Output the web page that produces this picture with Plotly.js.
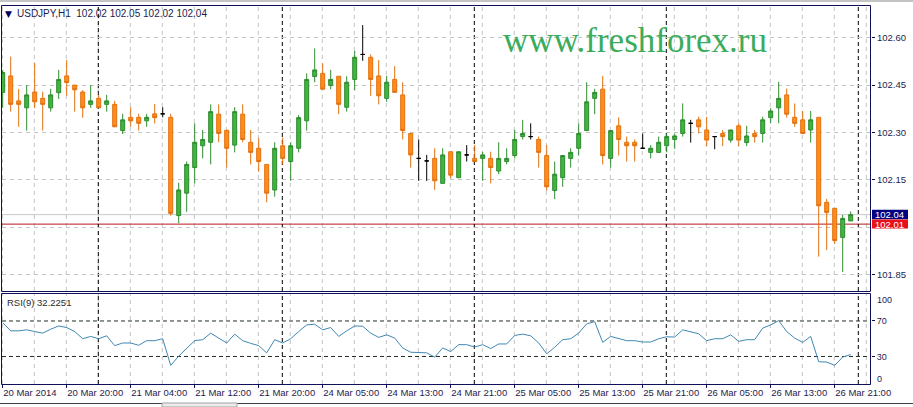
<!DOCTYPE html>
<html><head><meta charset="utf-8">
<script src="https://cdn.plot.ly/plotly-3.0.1.min.js"></script>
<style>html,body{margin:0;padding:0;background:#fff;overflow:hidden}#chart{width:913px;height:407px}</style>
</head><body><div id="chart"></div>
<script>
// ---- data (USDJPY H1, bar index 0 = 20 Mar 2014 12:00) ----
const opens = [102.427,102.479,102.400,102.378,102.428,102.408,102.378,102.426,102.479,102.450,
102.428,102.389,102.408,102.389,102.389,102.306,102.348,102.348,102.337,102.359,
102.359,102.348,102.037,102.108,102.189,102.258,102.269,102.358,102.307,102.260,
102.358,102.269,102.250,102.199,102.118,102.258,102.208,102.250,102.337,102.477,
102.487,102.449,102.478,102.380,102.468,102.547,102.538,102.479,102.408,102.468,
102.419,102.297,102.218,102.210,102.218,102.139,102.239,102.157,102.229,102.218,
102.218,102.218,102.178,102.208,102.227,102.287,102.287,102.278,102.227,102.116,
102.157,102.218,102.250,102.306,102.408,102.437,102.218,102.321,102.269,102.269,
102.250,102.237,102.237,102.258,102.278,102.297,102.329,102.340,102.308,102.287,
102.297,102.276,102.321,102.268,102.297,102.297,102.347,102.378,102.419,102.348,
102.340,102.308,102.348,102.079,102.060,101.968,102.020];
const highs = [102.498,102.540,102.438,102.450,102.521,102.429,102.438,102.498,102.529,102.450,
102.434,102.450,102.419,102.419,102.400,102.359,102.380,102.359,102.359,102.390,
102.380,102.359,102.141,102.208,102.329,102.308,102.389,102.389,102.307,102.380,
102.389,102.308,102.282,102.199,102.269,102.284,102.269,102.355,102.487,102.566,
102.519,102.498,102.478,102.478,102.558,102.640,102.547,102.529,102.479,102.510,
102.459,102.297,102.278,102.229,102.250,102.250,102.239,102.239,102.260,102.260,
102.239,102.239,102.269,102.250,102.308,102.340,102.329,102.287,102.260,102.208,
102.227,102.250,102.329,102.459,102.438,102.479,102.306,102.348,102.287,102.278,
102.297,102.260,102.287,102.297,102.297,102.392,102.340,102.350,102.350,102.287,
102.308,102.308,102.329,102.321,102.308,102.350,102.377,102.460,102.439,102.392,
102.368,102.368,102.348,102.090,102.060,102.039,102.050];
const lows = [102.378,102.366,102.318,102.306,102.377,102.306,102.366,102.406,102.416,102.366,
102.347,102.378,102.378,102.366,102.318,102.295,102.318,102.306,102.318,102.329,
102.348,102.037,102.013,102.049,102.139,102.218,102.199,102.269,102.189,102.237,
102.269,102.199,102.176,102.079,102.097,102.199,102.147,102.237,102.306,102.459,
102.437,102.437,102.358,102.366,102.434,102.527,102.416,102.389,102.397,102.427,
102.278,102.189,102.147,102.147,102.118,102.139,102.155,102.157,102.208,102.208,
102.147,102.139,102.168,102.199,102.218,102.278,102.278,102.189,102.116,102.089,
102.128,102.189,102.227,102.306,102.358,102.199,102.189,102.227,102.208,102.208,
102.250,102.218,102.237,102.237,102.248,102.287,102.268,102.297,102.257,102.247,
102.257,102.268,102.257,102.257,102.268,102.268,102.329,102.329,102.347,102.318,
102.297,102.268,101.907,101.928,101.947,101.858,102.020];
const closes = [102.490,102.389,102.389,102.419,102.397,102.389,102.419,102.468,102.458,102.435,
102.378,102.400,102.378,102.400,102.318,102.340,102.337,102.329,102.348,102.347,
102.359,102.044,102.118,102.199,102.269,102.278,102.366,102.297,102.250,102.366,
102.278,102.237,102.208,102.108,102.250,102.218,102.258,102.347,102.468,102.498,
102.437,102.468,102.389,102.459,102.538,102.547,102.468,102.416,102.459,102.427,
102.306,102.229,102.218,102.210,102.147,102.229,102.165,102.239,102.229,102.208,
102.229,102.189,102.218,102.218,102.278,102.297,102.287,102.237,102.128,102.168,
102.227,102.237,102.297,102.397,102.427,102.227,102.306,102.278,102.258,102.258,
102.250,102.250,102.269,102.287,102.289,102.340,102.329,102.318,102.276,102.287,
102.287,102.308,102.276,102.289,102.287,102.340,102.368,102.408,102.358,102.329,
102.297,102.340,102.068,102.047,101.958,102.028,102.040];
const rsiValues = [68.1,58.9,58.9,60.0,58.1,56.3,60.7,64.4,62.6,58.1,
50.0,52.6,50.0,53.3,42.2,45.2,45.2,42.6,47.8,47.8,
50.0,20.0,30.4,39.6,47.8,48.9,56.3,50.7,45.2,55.2,
47.8,44.8,42.2,34.1,48.9,45.2,50.0,58.1,65.6,66.3,
60.0,62.6,52.6,58.9,64.4,64.1,56.3,51.5,54.4,50.7,
39.6,34.8,34.1,34.1,29.3,39.6,35.5,43.3,43.3,40.7,
43.3,38.9,44.1,44.1,53.7,55.2,53.3,45.2,33.0,40.4,
48.9,50.0,56.3,66.7,69.3,45.9,52.6,50.0,47.8,47.8,
46.3,46.3,50.0,52.2,51.9,60.0,58.1,55.6,47.8,50.0,
50.0,54.4,47.0,48.9,48.9,61.9,65.6,70.4,58.1,50.7,
45.9,52.6,24.1,23.7,20.0,29.3,32.2];
const xTickIdx = [0,8,16,24,32,40,48,56,64,72,80,88,96,104];
const xTickLabels = ['20 Mar 2014','20 Mar 20:00','21 Mar 04:00','21 Mar 12:00','21 Mar 20:00',
  '24 Mar 05:00','24 Mar 13:00','24 Mar 21:00','25 Mar 05:00','25 Mar 13:00','25 Mar 21:00',
  '26 Mar 05:00','26 Mar 13:00','26 Mar 21:00'];
const gridIdx = [0,4,8,12,16,20,24,28,32,36,40,44,48,52,56,60,64,68,72,76,80,84,88,92,96,100,104,108];
const daySeparators = [12,35,59,83,107];
const priceTicks = [101.85,102.00,102.15,102.30,102.45,102.60];
const priceTickLabels = ['101.85','','102.15','102.30','102.45','102.60'];
const rsiLevels = [30,70];
const bidPrice = 102.04;
const linePrice = 102.01;
const titleText = 'USDJPY,H1  102.02 102.05 102.02 102.04';
const rsiText = 'RSI(9) 32.2251';

// ---- build ----
const W = 913, H = 407;
const X = v => v / W, Y = v => 1 - v / H;
const idx = opens.map((_, i) => i);
function subset(f){
  const s = idx.filter(f);
  return {x: s, open: s.map(i=>opens[i]), high: s.map(i=>highs[i]), low: s.map(i=>lows[i]), close: s.map(i=>closes[i])};
}
function candle(d, lc, fc){
  return Object.assign({type:'candlestick', xaxis:'x', yaxis:'y', hoverinfo:'skip', whiskerwidth:0,
    increasing:{line:{color:lc, width:1}, fillcolor:fc},
    decreasing:{line:{color:lc, width:1}, fillcolor:fc}}, d);
}
const traces = [
  candle(subset(i=>closes[i]>opens[i]), '#2e8b2e', '#3fb53f'),
  candle(subset(i=>closes[i]<opens[i]), '#e2700e', '#ff8c1a'),
  candle(subset(i=>closes[i]===opens[i]), '#000000', '#000000'),
  {type:'scatter', mode:'lines', x: idx, y: rsiValues, xaxis:'x', yaxis:'y2', hoverinfo:'skip',
   line:{color:'#4088b4', width:1}}
];
const navy = '#10105a';
const gridC = '#c4c4c4';
const shapes = [];
// top frame band
shapes.push({type:'rect', xref:'paper', yref:'paper', x0:0, x1:1, y0:Y(2), y1:1, fillcolor:'#c4c4c4', line:{width:0}, layer:'above'});
// vertical grid (both panels)
gridIdx.forEach(g => {
  ['y domain','y2 domain'].forEach(r => shapes.push({type:'line', xref:'x', yref:r, x0:g-0.05, x1:g-0.05, y0:0, y1:1,
    line:{color:gridC, width:1, dash:'4px,4px'}, layer:'below'}));
});
// bid and custom lines
shapes.push({type:'line', xref:'paper', yref:'y', x0:X(2), x1:X(870.5), y0:bidPrice, y1:bidPrice, line:{color:'#c8c8c8', width:1}, layer:'below'});
shapes.push({type:'line', xref:'paper', yref:'y', x0:X(2), x1:X(870.5), y0:linePrice, y1:linePrice, line:{color:'#b81820', width:1}, layer:'below'});
// day separators
daySeparators.forEach(d => {
  ['y domain','y2 domain'].forEach(r => shapes.push({type:'line', xref:'x', yref:r, x0:d-0.05, x1:d-0.05, y0:0, y1:1,
    line:{color:'#000', width:1, dash:'4px,3px'}, layer:'below'}));
});
// RSI levels
rsiLevels.forEach(l => shapes.push({type:'line', xref:'paper', yref:'y2', x0:X(2), x1:X(870.5), y0:l, y1:l,
  line:{color:'#203020', width:1, dash:'4px,3px'}, layer:'below'}));
// panel borders
shapes.push({type:'rect', xref:'paper', yref:'paper', x0:X(1.5), x1:X(870.5), y0:Y(291.5), y1:Y(5.5), line:{color:navy, width:1}, layer:'above'});
shapes.push({type:'rect', xref:'paper', yref:'paper', x0:X(1.5), x1:X(870.5), y0:Y(384.5), y1:Y(293.5), line:{color:navy, width:1}, layer:'above'});
// price label boxes
shapes.push({type:'rect', xref:'paper', yref:'y', ysizemode:'pixel', yanchor:bidPrice, y0:-4.5, y1:4.8, x0:X(872), x1:X(908), fillcolor:'#000080', line:{width:0}, layer:'above'});
shapes.push({type:'rect', xref:'paper', yref:'y', ysizemode:'pixel', yanchor:linePrice, y0:-4.5, y1:4.5, x0:X(872), x1:X(908), fillcolor:'#e8101a', line:{width:0}, layer:'above'});
// bottom tab bar
shapes.push({type:'line', xref:'paper', yref:'paper', x0:0, x1:1, y0:Y(403.5), y1:Y(403.5), line:{color:'#404040', width:1}, layer:'above'});
shapes.push({type:'rect', xref:'paper', yref:'paper', x0:X(162), x1:X(237), y0:0, y1:Y(403), fillcolor:'#ececec', line:{color:'#a0a0a0', width:1}, layer:'above'});

const fontF = 'Liberation Sans, Arial, sans-serif';
const annotations = [
  {xref:'paper', yref:'paper', x:X(3), y:Y(13.5), xanchor:'left', yanchor:'middle', text:'▼', showarrow:false, font:{family:'DejaVu Sans', size:9, color:'#000060'}},
  {xref:'paper', yref:'paper', x:X(15), y:Y(13.5), xanchor:'left', yanchor:'middle', text:titleText.replace(/ /g,'&nbsp;'), showarrow:false, font:{family:fontF, size:10, color:'#1c1c50'}},
  {xref:'paper', yref:'paper', x:X(5), y:Y(302), xanchor:'left', yanchor:'middle', text:rsiText, showarrow:false, font:{family:fontF, size:9.5, color:'#2a2a2a'}},
  {xref:'paper', yref:'paper', x:X(501), y:Y(40), xanchor:'left', yanchor:'middle', text:'www.freshforex.ru', showarrow:false, font:{family:'Liberation Serif, Times New Roman, serif', size:35, color:'#3aac5c'}},
  {xref:'paper', yref:'y', x:X(873), y:bidPrice, xanchor:'left', yanchor:'middle', text:'102.04', showarrow:false, font:{family:fontF, size:9.5, color:'#ffffff'}},
  {xref:'paper', yref:'y', x:X(873), y:linePrice, xanchor:'left', yanchor:'middle', text:'102.01', showarrow:false, font:{family:fontF, size:9.5, color:'#ffffff'}},
  {xref:'paper', yref:'paper', x:X(875), y:Y(300), xanchor:'left', yanchor:'middle', text:'100', showarrow:false, font:{family:fontF, size:9, color:'#1c1c50'}},
  {xref:'paper', yref:'paper', x:X(875), y:Y(378.5), xanchor:'left', yanchor:'middle', text:'0', showarrow:false, font:{family:fontF, size:9, color:'#1c1c50'}}
];

const layout = {
  width: W, height: H, margin:{l:0, r:0, t:0, b:0}, paper_bgcolor:'#ffffff', plot_bgcolor:'#ffffff',
  showlegend:false, hovermode:false, dragmode:false, boxgap:0, boxgroupgap:0.5,
  font:{family:fontF, size:9, color:'#1c1c50'},
  xaxis:{type:'linear', domain:[X(2), X(871)], range:[-0.0875, 108.5375], anchor:'y2', rangeslider:{visible:false},
    tickmode:'array', tickvals:xTickIdx, ticktext:xTickLabels, ticks:'outside', ticklen:3, tickcolor:navy,
    tickangle:0, ticklabelposition:'outside right', tickfont:{family:fontF, size:9.5, color:'#1c1c50'},
    showgrid:false, zeroline:false, showline:false, fixedrange:true},
  yaxis:{domain:[Y(291), Y(5)], range:[101.7983, 102.7035], side:'right', anchor:'x',
    tickmode:'array', tickvals:priceTicks, ticktext:priceTickLabels, ticks:'outside', ticklen:3, tickcolor:navy,
    tickfont:{family:fontF, size:9.5, color:'#1c1c50'},
    showgrid:true, gridcolor:gridC, griddash:'4px,4px', gridwidth:1, zeroline:false, showline:false, fixedrange:true},
  yaxis2:{domain:[Y(384), Y(294)], range:[-1.01, 100.39], side:'right', anchor:'x',
    tickmode:'array', tickvals:rsiLevels, ticktext:rsiLevels.map(String), ticks:'outside', ticklen:3, tickcolor:navy,
    tickfont:{family:fontF, size:9, color:'#1c1c50'},
    showgrid:false, zeroline:false, showline:false, fixedrange:true},
  shapes: shapes, annotations: annotations
};
Plotly.newPlot('chart', traces, layout, {staticPlot:true, displayModeBar:false});
</script></body></html>
